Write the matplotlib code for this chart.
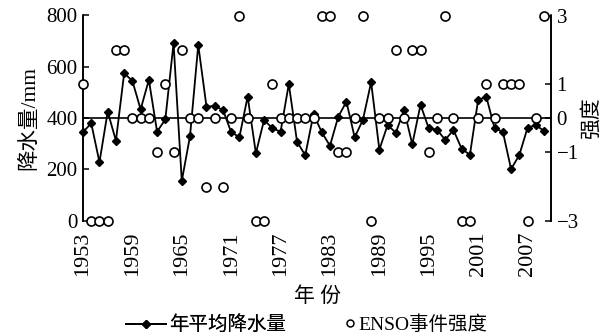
import matplotlib
matplotlib.use("Agg")
import matplotlib.pyplot as plt
from matplotlib.lines import Line2D

plt.rcParams["font.family"] = ["Liberation Serif", "Noto Sans CJK SC"]

# annual data 1953-2009
years = list(range(1953, 2010))
precip = [
    345, 380, 228, 425, 312, 575, 545, 434, 549, 347,
    395, 692, 155, 330, 685, 445, 447, 432, 345, 326,
    484, 263, 393, 360, 347, 533, 308, 255, 416, 345,
    292, 405, 464, 325, 393, 540, 277, 373, 343, 432,
    298, 452, 360, 355, 315, 354, 280, 257, 472, 482,
    360, 347, 201, 256, 362, 373, 350,
]
enso = [
    1, -3, -3, -3, 2, 2, 0, 0, 0, -1,
    1, -1, 2, 0, 0, -2, 0, -2, 0, 3,
    0, -3, -3, 1, 0, 0, 0, 0, 0, 3,
    3, -1, -1, 0, 3, -3, 0, 0, 2, 0,
    2, 2, -1, 0, 3, 0, -3, -3, 0, 1,
    0, 1, 1, 1, -3, 0, 3,
]
xtick_years = list(range(1953, 2008, 6))

fig = plt.figure(figsize=(6.12, 3.36), dpi=100)
ax = fig.add_axes([83 / 612, 1 - 220.7 / 336, (551 - 83) / 612, (220.7 - 15.5) / 336])
ax2 = ax.twinx()

# precipitation line
ax.plot(years, precip, color="black", lw=1.3, marker="D", ms=4.5,
        mfc="black", mec="black", zorder=3, clip_on=False)
ax.axhline(400, color="black", lw=1.2, zorder=2)
ax.set_xlim(1953, 2009.85)
ax.set_ylim(0, 800)
ax.set_yticks([0, 200, 400, 600, 800])
ax.set_xticks(xtick_years)
ax.set_xticklabels([str(y) for y in xtick_years], rotation=90)

# ENSO intensity circles
ax2.plot(years, enso, ls="none", marker="o", ms=6.5, mfc="white",
         mec="black", mew=1.2, zorder=4, clip_on=False)
ax2.set_ylim(-3, 3)
ax2.set_yticks([-3, -1, 0, 1, 3])
ax2.set_zorder(ax.get_zorder() + 1)
ax2.patch.set_visible(False)

for a in (ax, ax2):
    a.spines["top"].set_visible(False)
    a.spines["bottom"].set_visible(False)
    a.spines["left"].set_linewidth(1.2)
    a.spines["right"].set_linewidth(1.2)
ax.tick_params(axis="y", direction="in", length=4, width=1.1, labelsize=15, pad=4)
ax.tick_params(axis="x", length=0, labelsize=16, pad=8)
ax2.tick_params(axis="y", direction="in", length=4, width=1.1, labelsize=15, pad=4)

ax.set_ylabel("降水量/mm", fontsize=15.5, labelpad=5)
ax2.set_ylabel("强度", fontsize=15, labelpad=2)
ax.set_xlabel("年 份", fontsize=15, labelpad=8)

# legend, two pieces so each handle gets its own width
leg1 = fig.legend([Line2D([], [], color="black", lw=1.3, marker="D", ms=4.5, mfc="black")],
                  ["年平均降水量"], loc="center left", bbox_to_anchor=(126 / 612, 11 / 336),
                  frameon=False, fontsize=14, handlelength=2.05, handletextpad=0.15,
                  borderpad=0, borderaxespad=0)
fig.legend([Line2D([], [], ls="none", marker="o", ms=5, mfc="white", mec="black", mew=1.1)],
           ["ENSO事件强度"], loc="center left", bbox_to_anchor=(344 / 612, 11 / 336),
           frameon=False, fontsize=14, handlelength=0.6, handletextpad=0.15,
           borderpad=0, borderaxespad=0)
fig.add_artist(leg1)

fig.savefig("out.png", dpi=100)
